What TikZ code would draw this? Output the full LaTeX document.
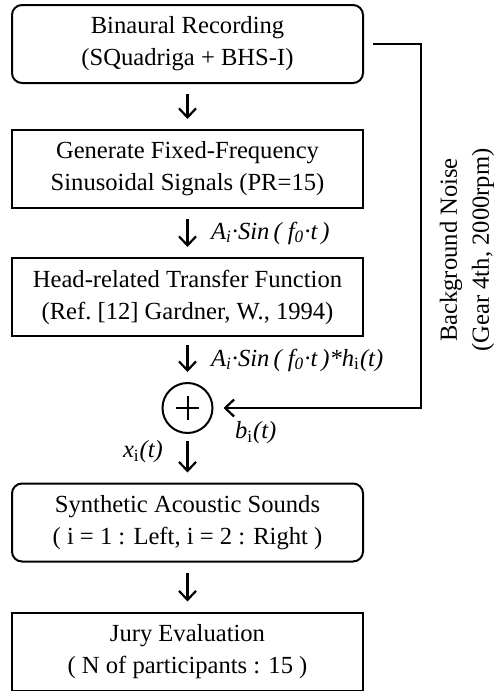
\documentclass[tikz,border=0pt]{standalone}
\usepackage{fontspec}
\setmainfont{Liberation Serif}
\usetikzlibrary{arrows.meta}

\begin{document}
\begin{tikzpicture}[x=0.5pt,y=-0.5pt,
    txt/.style={font=\fontsize{12.3}{16}\selectfont},
    box/.style={txt,draw,line width=1pt,align=center,minimum width=175.5pt,minimum height=39pt,inner sep=0pt},
    rbox/.style={box,rounded corners=5pt},
    sumnode/.style={draw,circle,line width=1pt,minimum size=25pt,inner sep=0pt},
    flow/.style={line width=1.1pt,-{Straight Barb[length=4.5pt,width=8.5pt,line width=1.1pt]},shorten <=5pt,shorten >=5pt}]
                \useasboundingbox (0,0) rectangle (499,691);
                % blocks
                \node [rbox] (rec) at (187.5,44) {Binaural Recording\\(SQuadriga + BHS-I)};
                \node [box] (gen) at (187.5,169) {Generate Fixed-Frequency\\Sinusoidal Signals (PR=15)};
                \node [box] (hrtf) at (187.5,297) {Head-related Transfer Function\\(Ref.\ [12] Gardner, W., 1994)};
                \node [sumnode] (sum) at (187.5,408) {};
                \node [rbox] (syn) at (187.5,522.5) {Synthetic Acoustic Sounds\\( i = 1 : Left, i = 2 : Right )};
                \node [box] (jury) at (187.5,651.5) {Jury Evaluation\\( N of participants : 15 )};
                \draw [line width=1pt] ([xshift=-5.8pt]sum.center) -- ([xshift=5.8pt]sum.center);
                \draw [line width=1pt] ([yshift=-5.8pt]sum.center) -- ([yshift=5.8pt]sum.center);
                % signals
                \node [txt,anchor=west] (sig) at (204,233) {\itshape A\textsubscript{i}·Sin\,( f\textsubscript{0}·t\,)};
                \node [txt,anchor=west] (conv) at (204,360) {\itshape A\textsubscript{i}·Sin\,( f\textsubscript{0}·t\,)*h\textsubscript{\upshape i}(t)};
                \node [txt,anchor=west] (bn) at (228,433) {\itshape b\textsubscript{\upshape i}(t)};
                \node [txt,anchor=east] (xs) at (170,452) {\itshape x\textsubscript{\upshape i}(t)};
                \node [txt,rotate=90,align=center] (noise) at (467,250) {Background Noise\\(Gear 4th, 2000rpm)};
                \coordinate (nb) at (421,408);
                % arrows
                \draw [flow] (rec) -- (gen);
                \draw [flow] (gen) -- (hrtf);
                \draw [flow,shorten <=4pt] (hrtf) -- (sum);
                \draw [flow,shorten <=3.5pt] (sum) -- (syn);
                \draw [flow] (syn) -- (jury);
                \draw [flow,shorten <=4.5pt] (rec.east) -| (nb) -- (sum.east);
            \end{tikzpicture}
\end{document}
